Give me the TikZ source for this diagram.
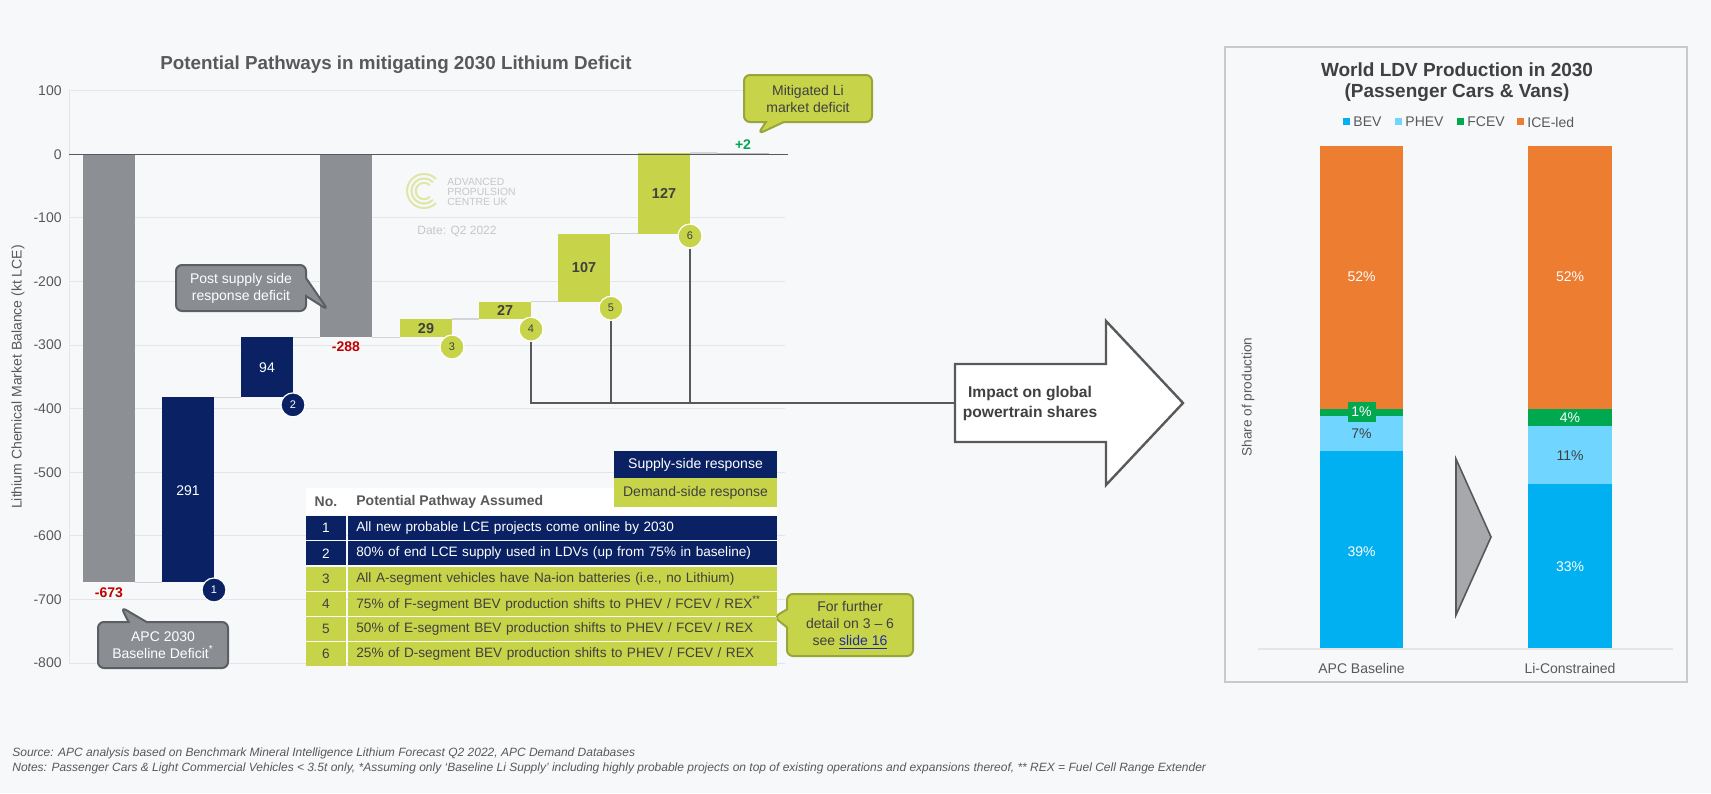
\documentclass[tikz,border=0pt]{standalone}
\usepackage{fontspec}
\setmainfont{Liberation Sans}
\usetikzlibrary{shapes.callouts}

\definecolor{pagebg}{HTML}{F7F8FA}
\definecolor{navy}{HTML}{0A2264}
\definecolor{lime}{HTML}{C7D449}
\definecolor{limeedge}{HTML}{98A53A}
\definecolor{bargrey}{HTML}{8C8F94}
\definecolor{calloutgrey}{HTML}{8A8D92}
\definecolor{calloutedge}{HTML}{5B5E62}
\definecolor{textgrey}{HTML}{595959}
\definecolor{darktext}{HTML}{404040}
\definecolor{gridgrey}{HTML}{E4E5E8}
\definecolor{stepgrey}{HTML}{D2D4D8}
\definecolor{deficitred}{HTML}{C00000}
\definecolor{surplusgreen}{HTML}{00A651}
\definecolor{bevblue}{HTML}{00B0F0}
\definecolor{phevblue}{HTML}{70D6FF}
\definecolor{fcevgreen}{HTML}{00A850}
\definecolor{iceorange}{HTML}{ED7D31}
\definecolor{logolime}{HTML}{DFE6A6}
\definecolor{logogrey}{HTML}{C6C7CA}
\definecolor{linkblue}{HTML}{1F2E9E}
\definecolor{panelgrey}{HTML}{C8CACD}
\definecolor{chevron}{HTML}{A7A8AB}

\tikzset{
  ticklabel/.style={anchor=east, text=textgrey, font=\fontsize{7}{8}\selectfont, inner sep=0pt},
  gridline/.style={gridgrey, line width=0.5pt},
  stepline/.style={stepgrey, line width=0.6pt},
  whitelabel/.style={text=white, font=\fontsize{7}{8}\selectfont},
  limelabel/.style={text=darktext, font=\bfseries\fontsize{7.2}{8}\selectfont},
  totallabel/.style={font=\bfseries\fontsize{7}{8}\selectfont},
  supplydot/.style={circle, fill=navy, draw=white, line width=0.6pt, minimum size=12pt, inner sep=0pt, text=white, font=\fontsize{5.5}{6}\selectfont},
  demanddot/.style={supplydot, fill=lime, text=darktext},
  greycallout/.style={rectangle callout, rounded corners=3pt, fill=calloutgrey, draw=calloutedge, line width=1pt, text=white, align=center, font=\fontsize{7}{8.5}\selectfont, inner sep=1pt, callout pointer width=9pt},
  limecallout/.style={greycallout, fill=lime, draw=limeedge, text=darktext},
  supplyrow/.style={fill=navy, text=white, minimum height=12pt, inner sep=0pt, font=\fontsize{6.8}{8}\selectfont},
  demandrow/.style={supplyrow, fill=lime, text=darktext},
  pathtext/.style={anchor=west, minimum width=214.5pt, text width=206.5pt, inner xsep=4pt, align=left},
  leadline/.style={textgrey, line width=0.7pt},
  segment/.style={text=white, font=\fontsize{7}{8}\selectfont},
  keybox/.style={minimum size=3.5pt, inner sep=0pt},
  keytext/.style={anchor=west, text=textgrey, font=\fontsize{7}{8}\selectfont, inner sep=1pt},
  logotext/.style={anchor=west, text=logogrey, font=\fontsize{5.2}{6}\selectfont, inner sep=0pt},
  footnote/.style={anchor=west, text=textgrey, font=\itshape\fontsize{6}{7}\selectfont, inner sep=0pt},
}

\begin{document}
\begin{tikzpicture}[x=0.5pt, y=-0.5pt]
  % page, 1 unit = 1 px of the slide
  \fill[pagebg] (0,0) rectangle (1711,793);

  % left: waterfall of the lithium balance
  \node[text=textgrey, font=\bfseries\fontsize{9.4}{11}\selectfont] (lefttitle) at (396,65) {Potential Pathways in mitigating 2030 Lithium Deficit};
  \node[rotate=90, text=textgrey, font=\fontsize{7}{8}\selectfont] (leftaxis) at (18,377) {Lithium Chemical Market Balance (kt LCE)};

  \begin{scope}[shift={(0,154.3)}, y=0.318pt]
    % values in kt LCE from here on
    \draw[gridline] (69,100) -- (69,-800);
    \draw[gridline] (69,100) -- (785,100);
    \draw[gridline] (69,-100) -- (785,-100);
    \draw[gridline] (69,-200) -- (785,-200);
    \draw[gridline] (69,-300) -- (785,-300);
    \draw[gridline] (69,-400) -- (785,-400);
    \draw[gridline] (69,-500) -- (785,-500);
    \draw[gridline] (69,-600) -- (785,-600);
    \draw[gridline] (69,-700) -- (785,-700);
    \draw[gridline] (69,-800) -- (785,-800);

    \node[ticklabel] (t100) at (62,100) {100};
    \node[ticklabel] (t0) at (62,0) {0};
    \node[ticklabel] (tm100) at (62,-100) {-100};
    \node[ticklabel] (tm200) at (62,-200) {-200};
    \node[ticklabel] (tm300) at (62,-300) {-300};
    \node[ticklabel] (tm400) at (62,-400) {-400};
    \node[ticklabel] (tm500) at (62,-500) {-500};
    \node[ticklabel] (tm600) at (62,-600) {-600};
    \node[ticklabel] (tm700) at (62,-700) {-700};
    \node[ticklabel] (tm800) at (62,-800) {-800};

    \fill[bargrey] (83,0) rectangle (135,-673);
    \fill[navy] (162,-673) rectangle (214,-382);
    \fill[navy] (241,-382) rectangle (293,-288);
    \fill[bargrey] (320,0) rectangle (372,-288);
    \fill[lime] (400,-288) rectangle (452,-259);
    \fill[lime] (479,-259) rectangle (531,-232);
    \fill[lime] (558,-232) rectangle (610,-125);
    \fill[lime] (638,-125) rectangle (690,2);
    \fill[bargrey!60] (717,0) rectangle (769,2);

    \draw[stepline] (135,-673) -- (162,-673);
    \draw[stepline] (214,-382) -- (241,-382);
    \draw[stepline] (293,-288) -- (320,-288);
    \draw[stepline] (372,-288) -- (400,-288);
    \draw[stepline] (452,-259) -- (479,-259);
    \draw[stepline] (531,-232) -- (558,-232);
    \draw[stepline] (610,-125) -- (638,-125);
    \draw[stepline] (690,2) -- (717,2);
    \draw[textgrey, line width=0.8pt] (69,0) -- (788,0);

    \node[whitelabel] (v291) at (188,-529) {291};
    \node[whitelabel] (v94) at (267,-335) {94};
    \node[limelabel] (v29) at (426,-273.5) {29};
    \node[limelabel] (v27) at (505,-245.5) {27};
    \node[limelabel] (v107) at (584,-178.5) {107};
    \node[limelabel] (v127) at (664,-61.5) {127};
    \node[totallabel, text=deficitred] (d673) at (109,-690) {-673};
    \node[totallabel, text=deficitred] (d288) at (346,-302) {-288};
    \node[totallabel, text=surplusgreen] (s2) at (743,16) {+2};

    \node[supplydot] (c1) at (214,-685) {1};
    \node[supplydot] (c2) at (293,-394) {2};
    \node[demanddot] (c3) at (452,-303) {3};
    \node[demanddot] (c4) at (531,-275) {4};
    \node[demanddot] (c5) at (611,-242) {5};
    \node[demanddot] (c6) at (690,-128.5) {6};
  \end{scope}

  % watermark
  \draw[logolime, line width=1pt] (424,191) ++(45:8.5pt) arc[start angle=45, end angle=315, radius=8.5pt];
  \draw[logolime, line width=1pt] (424,191) ++(45:6.3pt) arc[start angle=45, end angle=315, radius=6.3pt];
  \draw[logolime, line width=1pt] (424,191) ++(45:4.1pt) arc[start angle=45, end angle=315, radius=4.1pt];
  \node[logotext] (logo1) at (447,182) {ADVANCED};
  \node[logotext] (logo2) at (447,192) {PROPULSION};
  \node[logotext] (logo3) at (447,202) {CENTRE UK};
  \node[logotext, font=\fontsize{6}{7}\selectfont] (logodate) at (417,231) {Date: Q2 2022};

  % callouts
  \node[greycallout, minimum width=65pt, minimum height=23pt, callout absolute pointer={(328,310)}] (postdeficit) at (241,288) {Post supply side\\response deficit};
  \node[greycallout, minimum width=65pt, minimum height=23pt, callout absolute pointer={(121,607)}] (basedeficit) at (163,645) {APC 2030\\Baseline Deficit\textsuperscript{*}};
  \node[limecallout, minimum width=64pt, minimum height=23.5pt, callout absolute pointer={(758,134)}] (mitigated) at (808,98.5) {Mitigated Li\\market deficit};
  \node[limecallout, minimum width=63pt, minimum height=31pt, callout absolute pointer={(774,617)}] (further) at (850,625) {For further\\detail on 3 -- 6\\see \textcolor{linkblue}{\underline{slide 16}}};

  % pathway table
  \fill[white] (306,488) rectangle (777,515);
  \node[text=textgrey, font=\bfseries\fontsize{7}{8}\selectfont] (hno) at (326,502) {No.};
  \node[anchor=west, inner sep=0pt, text=textgrey, font=\bfseries\fontsize{7}{8}\selectfont] (hpath) at (356,502) {Potential Pathway Assumed};
  \node[supplyrow, minimum width=81.5pt, minimum height=13.5pt, font=\fontsize{7}{8}\selectfont] (supplykey) at (695.5,464.5) {Supply-side response};
  \node[demandrow, minimum width=81.5pt, minimum height=14.5pt, font=\fontsize{7}{8}\selectfont] (demandkey) at (695.5,492.5) {Demand-side response};

  \node[supplyrow, minimum width=20pt] (n1) at (326,528.2) {1};
  \node[supplyrow, pathtext] (p1) at (348,528.2) {All new probable LCE projects come online by 2030};
  \node[supplyrow, minimum width=20pt] (n2) at (326,553.4) {2};
  \node[supplyrow, pathtext] (p2) at (348,553.4) {80\% of end LCE supply used in LDVs (up from 75\% in baseline)};
  \node[demandrow, minimum width=20pt] (n3) at (326,578.6) {3};
  \node[demandrow, pathtext] (p3) at (348,578.6) {All A-segment vehicles have Na-ion batteries (i.e., no Lithium)};
  \node[demandrow, minimum width=20pt] (n4) at (326,603.8) {4};
  \node[demandrow, pathtext] (p4) at (348,603.8) {75\% of F-segment BEV production shifts to PHEV / FCEV / REX\textsuperscript{**}};
  \node[demandrow, minimum width=20pt] (n5) at (326,629) {5};
  \node[demandrow, pathtext] (p5) at (348,629) {50\% of E-segment BEV production shifts to PHEV / FCEV / REX};
  \node[demandrow, minimum width=20pt] (n6) at (326,654.2) {6};
  \node[demandrow, pathtext] (p6) at (348,654.2) {25\% of D-segment BEV production shifts to PHEV / FCEV / REX};

  % big arrow to the right panel
  \draw[textgrey, fill=white, line width=1.2pt, line join=miter] (955,364) -- (1106,364) -- (1106,321) -- (1183,403) -- (1106,485) -- (1106,442) -- (955,442) -- cycle;
  \coordinate (arrowtail) at (955,403);
  \node[text=darktext, align=center, font=\bfseries\fontsize{7.8}{10}\selectfont] (impact) at (1030,403) {Impact on global\\powertrain shares};

  \draw[leadline] (c4) |- (arrowtail);
  \draw[leadline] (c5) -- (c5 |- arrowtail);
  \draw[leadline] (c6) -- (c6 |- arrowtail);

  % right: powertrain shares
  \draw[panelgrey, line width=0.8pt] (1225,47) rectangle (1687,682);
  \node[text=darktext, align=center, font=\bfseries\fontsize{9.5}{10.5}\selectfont] (righttitle) at (1457,82) {World LDV Production in 2030\\(Passenger Cars \& Vans)};

  \node[keybox, fill=bevblue] (kbev) at (1346,121) {};
  \node[keytext] (tbev) at (1351,122) {BEV};
  \node[keybox, fill=phevblue] (kphev) at (1398,121) {};
  \node[keytext] (tphev) at (1403,122) {PHEV};
  \node[keybox, fill=fcevgreen] (kfcev) at (1460,121) {};
  \node[keytext] (tfcev) at (1465,122) {FCEV};
  \node[keybox, fill=iceorange] (kice) at (1520,121) {};
  \node[keytext] (tice) at (1525,122) {ICE-led};

  \node[rotate=90, text=textgrey, font=\fontsize{6.8}{8}\selectfont] (rightaxis) at (1248,397) {Share of production};

  \fill[iceorange] (1320,146) rectangle (1403,409);
  \fill[fcevgreen] (1320,409) rectangle (1403,416);
  \fill[phevblue] (1320,416) rectangle (1403,451);
  \fill[bevblue] (1320,451) rectangle (1403,649);
  \fill[iceorange] (1528,146) rectangle (1612,409);
  \fill[fcevgreen] (1528,409) rectangle (1612,426);
  \fill[phevblue] (1528,426) rectangle (1612,484);
  \fill[bevblue] (1528,484) rectangle (1612,649);
  \draw[gridgrey, line width=0.6pt] (1258,649) -- (1673,649);

  \node[segment] (ice1) at (1361.5,277) {52\%};
  \node[segment, fill=fcevgreen, minimum width=14pt, minimum height=10pt, inner sep=0pt] (fcev1) at (1361.5,412) {1\%};
  \node[segment, text=darktext] (phev1) at (1361.5,434) {7\%};
  \node[segment] (bev1) at (1361.5,552) {39\%};
  \node[segment] (ice2) at (1570,277) {52\%};
  \node[segment] (fcev2) at (1570,418) {4\%};
  \node[segment, text=darktext] (phev2) at (1570,456) {11\%};
  \node[segment] (bev2) at (1570,567) {33\%};

  \draw[textgrey, fill=chevron, line width=0.8pt] (1456,459) -- (1491,537) -- (1456,615) -- cycle;

  \node[text=textgrey, font=\fontsize{7}{8}\selectfont] (xbase) at (1361.5,668) {APC Baseline};
  \node[text=textgrey, font=\fontsize{7}{8}\selectfont] (xcons) at (1570,668) {Li-Constrained};

  % sources
  \node[footnote] (source) at (12,753) {Source: APC analysis based on Benchmark Mineral Intelligence Lithium Forecast Q2 2022, APC Demand Databases};
  \node[footnote] (notes) at (12,768) {Notes: Passenger Cars \& Light Commercial Vehicles < 3.5t only, *Assuming only `Baseline Li Supply' including highly probable projects on top of existing operations and expansions thereof, ** REX = Fuel Cell Range Extender};
\end{tikzpicture}
\end{document}
